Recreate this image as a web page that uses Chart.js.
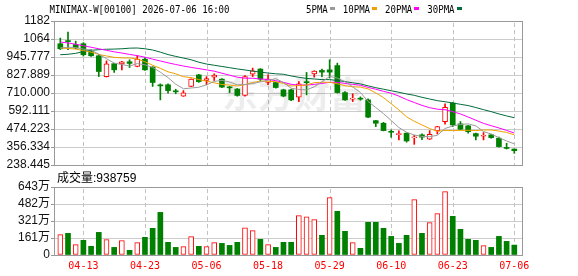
<!DOCTYPE html>
<html>
<head>
<meta charset="utf-8">
<script src="https://cdn.jsdelivr.net/npm/chart.js@4.4.1/dist/chart.umd.min.js"></script>
<style>
  html, body { margin: 0; padding: 0; background: #fff; }
  #wrap { position: relative; width: 578px; height: 276px; overflow: hidden; }
  #kline { position: absolute; left: 0; top: 0; }
  #vol { position: absolute; left: 0; top: 168px; }
</style>
</head>
<body>
<div id="wrap">
  <canvas id="kline" width="578" height="178"></canvas>
  <canvas id="vol" width="578" height="108"></canvas>
</div>
<script>
// data
const title = "MINIMAX-W[00100] 2026-07-06 16:00";
const dates = ["04-08","04-09","04-10","04-13","04-14","04-15","04-16","04-17","04-20","04-21",
  "04-22","04-23","04-24","04-27","04-28","04-29","04-30","05-04","05-05","05-06",
  "05-07","05-08","05-11","05-12","05-13","05-14","05-15","05-18","05-19","05-20",
  "05-21","05-22","05-26","05-27","05-28","05-29","06-01","06-02","06-03","06-04",
  "06-05","06-08","06-09","06-10","06-11","06-12","06-15","06-16","06-17","06-18",
  "06-22","06-23","06-24","06-25","06-26","06-29","06-30","07-02","07-03","07-06"];
const xTickDates = ["04-13","04-23","05-06","05-18","05-29","06-10","06-23","07-06"];

const open = [1033,1050,1028,1033,982,954,818,902,900,915,884,932,880,760,764,722,690,753,829,792,
  814,801,747,736,694,834,867,779,779,731,731,683,782,836,858,862,890,713,670,674,
  665,529,512,456,437,447,416,436,407,462,523,644,508,495,444,427,436,414,350,343];
const high = [1070,1110,1050,1040,994,962,921,905,918,928,954,943,883,770,770,735,726,803,832,818,
  836,805,753,740,825,873,870,829,782,735,735,785,845,856,867,928,906,720,705,685,
  672,531,518,468,462,450,433,442,464,492,639,648,523,498,447,451,440,422,381,345];
const low = [995,994,1000,952,950,818,815,845,862,877,882,858,753,665,709,705,688,751,780,764,
  792,745,713,689,690,818,790,764,742,685,660,654,698,814,818,808,710,662,654,663,
  548,490,462,420,403,388,374,405,405,442,506,490,470,447,403,403,414,355,343,315];
const close = [1000,1047,1005,961,954,851,902,862,915,904,932,862,779,757,726,718,711,801,785,805,
  827,749,744,694,818,856,801,801,746,690,665,770,778,854,847,847,713,665,676,670,
  552,512,464,453,441,396,420,421,440,490,617,501,473,457,427,431,418,359,347,332];

const ma5 = [1005,1010,1008,998,993,964,935,906,897,887,903,895,878,847,811,768,738,743,748,764,
  786,793,782,764,766,772,783,794,804,779,741,734,730,751,783,819,808,785,750,714,
  655,615,575,530,484,453,435,426,424,433,478,494,504,508,495,458,441,418,396,377];
const ma10 = [1005,1002,998,988,978,963,953,944,940,940,933,915,892,872,849,836,817,811,798,788,
  777,766,762,756,765,779,788,788,784,773,756,759,762,778,781,780,771,758,751,749,
  737,711,680,640,599,554,525,501,477,459,465,464,465,466,464,468,468,461,452,436];
const ma20 = [1044,1038,1030,1020,1010,1000,990,980,972,963,955,945,932,920,908,897,887,878,870,862,
  853,840,827,814,807,807,802,799,791,780,767,762,762,767,773,780,780,773,767,761,
  747,735,721,709,690,667,648,629,614,604,601,588,573,553,532,511,496,481,465,448];
const ma30 = [961,964,970,982,990,994,997,998,1000,1004,1005,1000,992,978,962,950,939,928,912,900,
  892,884,876,868,861,854,847,841,836,833,822,813,806,802,798,798,792,785,777,770,
  757,745,735,725,715,704,695,682,671,660,653,645,636,628,615,601,588,573,560,548];

const volume = [1920000,2050000,980000,1390000,820000,2140000,1450000,720000,1360000,440000,
  1170000,1670000,2520000,4030000,1200000,720000,790000,1730000,820000,790000,
  1170000,1100000,910000,1200000,2580000,2300000,1480000,980000,720000,1200000,
  1200000,3720000,3620000,3340000,1860000,5420000,4130000,2240000,1170000,630000,
  3090000,3090000,2520000,1760000,1100000,1860000,5230000,2050000,3060000,3910000,
  5990000,3660000,2430000,1480000,1390000,880000,720000,1760000,1290000,938759];
// 1 = red hollow volume bar, 0 = green
const volUp = [1,0,1,0,0,0,1,0,1,0, 1,0,0,0,0,0,1,1,0,1, 1,0,0,0,1,1,0,1,0,0,
  0,1,1,1,0,1,0,0,1,0, 0,0,0,0,0,0,1,0,1,1, 1,0,0,0,0,1,0,0,0,0];

const priceTickLabels = ["238.445","356.334","474.223","592.111","710.000","827.889","945.777","1064","1182"];
const volTickLabels = ["0","161万","321万","482万","643万"];
const volTickValues = [0, 1607500, 3215000, 4822500, 6430000];

const RED = "#ff0000";
const GREEN = "#008000";
const GRID = "#cccccc";
const DASH = "#c2c2c2";
const FRAME = "#999999";
const X_MIN = -0.82, X_MAX = 60.0;

const xTickIdx = xTickDates.map(d => dates.indexOf(d));
const isUp = close.map((c, i) => c > open[i]);

/**
 * dashed vertical lines at the date ticks, drawn as short segments
 */
function drawDateLines(chart) {
  const { ctx, chartArea: a, scales } = chart;
  ctx.save();
  ctx.fillStyle = DASH;
  xTickIdx.forEach(i => {
    const x = Math.round(scales.x.getPixelForValue(i));
    for (let y = Math.round(a.top) + 2; y < a.bottom; y += 7) {
      ctx.fillRect(x, y, 1, Math.min(4, a.bottom - y));
    }
  });
  ctx.restore();
}

/**
 * frame around the plot area
 */
function drawFrame(chart) {
  const { ctx, chartArea: a } = chart;
  ctx.save();
  ctx.strokeStyle = FRAME;
  ctx.lineWidth = 1;
  ctx.strokeRect(Math.round(a.left) + 0.5, Math.round(a.top) + 0.5,
    Math.round(a.right - a.left), Math.round(a.bottom - a.top));
  ctx.restore();
}

const klinePlugin = {
  id: "klineDecor",
  beforeDatasetsDraw(chart) {
    const { ctx } = chart;
    drawDateLines(chart);
    ctx.save();
    ctx.font = 'bold 36px "Noto Sans CJK SC"';
    ctx.fillStyle = "rgba(0,0,0,0.07)";
    ctx.fillText("东方财富", 222, 108);
    ctx.restore();
  },
  afterDraw(chart) {
    const { ctx } = chart;
    drawFrame(chart);
    ctx.save();
    ctx.font = '11px "DejaVu Sans Mono"';
    ctx.fillStyle = "#000";
    ctx.textBaseline = "alphabetic";
    ctx.fillText(title, 49.5, 13, 180);

    // legend for the moving averages
    let x = 306;
    chart.data.datasets.filter(ds => ds.type === "line").forEach(ds => {
      const w = ds.label.length * 5.45;
      ctx.fillStyle = "#000";
      ctx.fillText(ds.label, x, 13, w);
      ctx.fillStyle = ds.borderColor;
      ctx.fillRect(Math.round(x + w + 2), 7, 5, 3);
      x += w + 15;
    });
    ctx.restore();
  }
};

const volPlugin = {
  id: "volDecor",
  beforeDatasetsDraw(chart) {
    drawDateLines(chart);
  },
  afterDraw(chart) {
    const { ctx } = chart;
    drawFrame(chart);
    ctx.save();
    ctx.font = '12px "Liberation Sans", "Noto Sans CJK SC"';
    ctx.fillStyle = "#000";
    ctx.fillText("成交量:" + volume[volume.length - 1], 57, 14);
    ctx.restore();
  }
};

function xScale(showLabels, height) {
  return {
    type: "linear",
    min: X_MIN,
    max: X_MAX,
    offset: false,
    bounds: "data",
    afterBuildTicks: s => { s.ticks = xTickIdx.map(v => ({ value: v })); },
    afterFit: s => { s.height = height; },
    ticks: {
      display: showLabels,
      autoSkip: false,
      maxRotation: 0,
      padding: 5,
      color: RED,
      font: { family: "DejaVu Sans Mono", size: 10 },
      callback: v => dates[v]
    },
    grid: { display: false, drawTicks: false, offset: false },
    border: { display: false }
  };
}

function yScale(min, max, values, labels) {
  return {
    type: "linear",
    min: min,
    max: max,
    beginAtZero: false,
    afterBuildTicks: s => { s.ticks = values.map(v => ({ value: v })); },
    afterFit: s => { s.width = 54; },
    ticks: {
      autoSkip: false,
      padding: 1,
      color: "#111",
      font: { family: '"Liberation Sans", "Noto Sans CJK SC"', size: 12 },
      callback: (v, i) => labels[i]
    },
    grid: { color: GRID, tickLength: 3, tickColor: FRAME },
    border: { display: false }
  };
}

function maLine(label, data, color) {
  return {
    type: "line",
    label: label,
    data: data.map((v, i) => ({ x: i, y: v })),
    borderColor: color,
    borderWidth: 1,
    pointRadius: 0,
    tension: 0,
    order: 0
  };
}

function renderKline() {
  const priceTicks = priceTickLabels.map(Number);
  new Chart(document.getElementById("kline"), {
    type: "bar",
    data: {
      datasets: [
        maLine("5PMA", ma5, "#9a9a9a"),
        maLine("10PMA", ma10, "#f0a000"),
        maLine("20PMA", ma20, "#ff00ff"),
        maLine("30PMA", ma30, "#006b3c"),
        {
          label: "body",
          data: open.map((o, i) => ({ x: i, y: [o, close[i]] })),
          backgroundColor: isUp.map(u => (u ? "#ffffff" : GREEN)),
          borderColor: isUp.map(u => (u ? RED : GREEN)),
          borderWidth: isUp.map(u => (u ? 1 : 0)),
          borderSkipped: false,
          barThickness: 5,
          minBarLength: 1,
          grouped: false,
          order: 1
        },
        {
          label: "wick",
          data: low.map((l, i) => ({ x: i, y: [l, high[i]] })),
          backgroundColor: isUp.map(u => (u ? RED : GREEN)),
          barThickness: 1,
          grouped: false,
          order: 2
        }
      ]
    },
    options: {
      responsive: false,
      maintainAspectRatio: false,
      animation: false,
      events: [],
      layout: { padding: { left: 0, right: 56, top: 21, bottom: 13 } },
      plugins: { legend: { display: false }, tooltip: { enabled: false } },
      scales: {
        x: xScale(false, 0),
        y: yScale(priceTicks[0], priceTicks[priceTicks.length - 1], priceTicks, priceTickLabels)
      }
    },
    plugins: [klinePlugin]
  });
}

function renderVolume() {
  new Chart(document.getElementById("vol"), {
    type: "bar",
    data: {
      datasets: [{
        label: "成交量",
        data: volume.map((v, i) => ({ x: i, y: v })),
        backgroundColor: volUp.map(u => (u ? "#ffffff" : GREEN)),
        borderColor: volUp.map(u => (u ? RED : GREEN)),
        borderWidth: volUp.map(u => (u ? 1 : 0)),
        borderSkipped: false,
        barThickness: 5,
        grouped: false
      }]
    },
    options: {
      responsive: false,
      maintainAspectRatio: false,
      animation: false,
      events: [],
      layout: { padding: { left: 0, right: 56, top: 19, bottom: 0 } },
      plugins: { legend: { display: false }, tooltip: { enabled: false } },
      scales: {
        x: xScale(true, 21),
        y: yScale(0, volTickValues[volTickValues.length - 1], volTickValues, volTickLabels)
      }
    },
    plugins: [volPlugin]
  });
}

renderKline();
renderVolume();
</script>
</body>
</html>
